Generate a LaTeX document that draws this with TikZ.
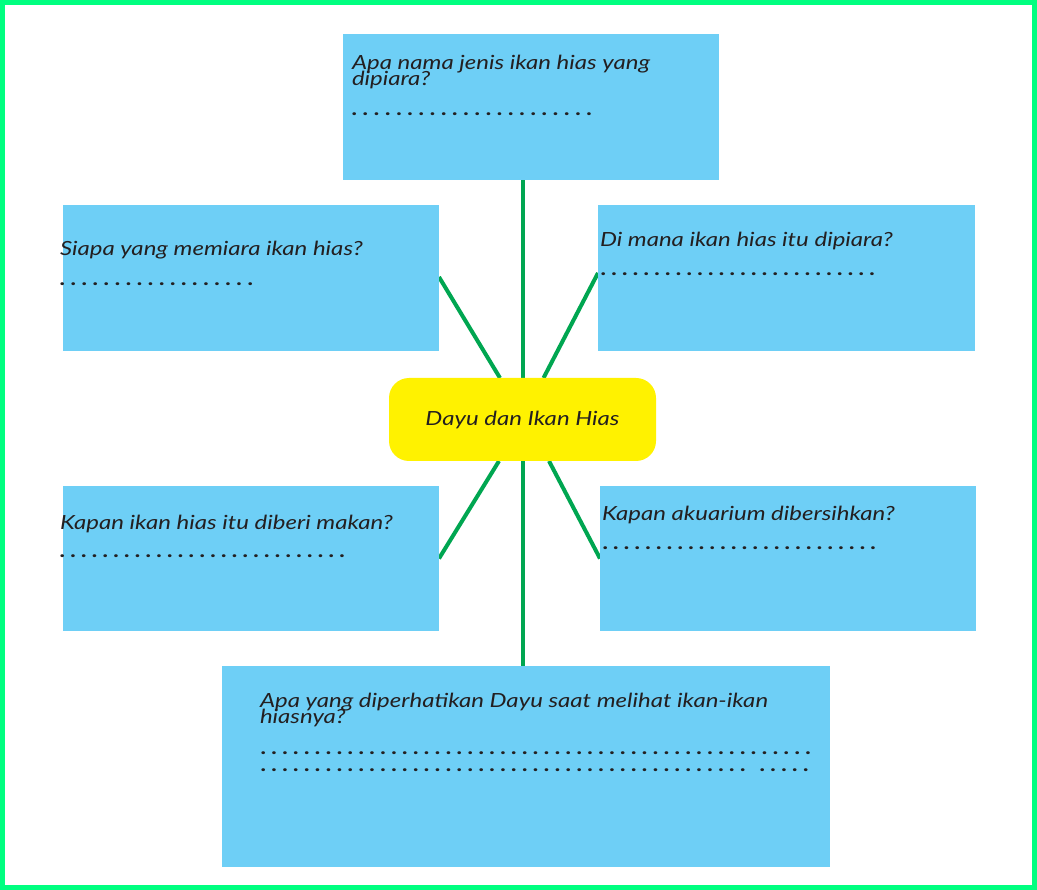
\documentclass[tikz,border=0pt]{standalone}
\usepackage{fontspec}
\setmainfont{Lato}[FakeStretch=1.23]
\usetikzlibrary{backgrounds,calc}
\definecolor{frame}{RGB}{0,255,128}
\definecolor{boxblue}{RGB}{110,207,246}
\definecolor{hubyellow}{RGB}{255,242,0}
\definecolor{link}{RGB}{0,166,81}
\definecolor{ink}{RGB}{35,31,32}
\newcommand\dotrow[2]{\foreach \i in {1,...,#1}{\makebox[#2][l]{.}}}
\begin{document}
\begin{tikzpicture}[x=1pt,y=-1pt,
  every node/.style={inner sep=0pt, outer sep=0pt},
  qbox/.style={rectangle, fill=boxblue},
  hubbox/.style={rectangle, rounded corners=20pt, fill=hubyellow, minimum width=267pt, minimum height=83pt},
  qtext/.style={anchor=base west, text=ink, font=\fontsize{19.5}{16}\selectfont\itshape},
  dotline/.style={anchor=base west, text=ink, font=\fontsize{19.5}{16}\selectfont\bfseries\itshape},
  linkline/.style={draw=link, line width=4pt}]
\path[use as bounding box] (0,0) rectangle (1037,890);

% boxes
\node[qbox, minimum width=376pt, minimum height=146pt] (top) at (531,107) {};
\node[qbox, minimum width=376pt, minimum height=146pt] (lu) at (251,278) {};
\node[qbox, minimum width=377pt, minimum height=146pt] (ru) at (786.5,278) {};
\node[qbox, minimum width=376pt, minimum height=145pt] (ll) at (251,558.5) {};
\node[qbox, minimum width=376pt, minimum height=145pt] (rl) at (788,558.5) {};
\node[qbox, minimum width=608pt, minimum height=201pt] (bot) at (526,766.5) {};
\node[hubbox, text=ink, font=\fontsize{19.5}{16}\selectfont\itshape] (hub) at (522.5,419.5) {Dayu dan Ikan Hias};

\begin{pgfonlayer}{background}
  \fill[white] (0,0) rectangle (1037,890);
  \draw[frame, line width=5pt] (2.5,2.5) rectangle (1034.5,887.5);
  \draw[linkline] (hub.north) -- (hub.north |- top.south);
  \draw[linkline] (hub.south) -- (hub.south |- bot.north);
  \draw[linkline] ($(lu.east)+(0,-1)$) -- ($(hub.north)+(-22.5,0)$);
  \draw[linkline] ($(ru.west)+(0,-5)$) -- ($(hub.north)+(21,0)$);
  \draw[linkline] (ll.east) -- ($(hub.south)+(-23.5,0)$);
  \draw[linkline] (rl.west) -- ($(hub.south)+(26.5,0)$);
\end{pgfonlayer}

% texts
\node[qtext] (t1a) at (352,70) {Apa nama jenis ikan hias yang};
\node[qtext] (t1b) at (352,86) {dipiara?};
\node[dotline] (t1c) at (352,116) {\dotrow{22}{11.19pt}};

\node[qtext] (t2a) at (60,256) {Siapa yang memiara ikan hias?};
\node[dotline] (t2c) at (60,286) {\dotrow{18}{11.06pt}};

\node[qtext] (t3a) at (600,247) {Di mana ikan hias itu dipiara?};
\node[dotline] (t3c) at (601,276) {\dotrow{26}{10.76pt}};

\node[qtext] (t4a) at (60,530) {Kapan ikan hias itu diberi makan?};
\node[dotline] (t4c) at (60,558) {\dotrow{27}{10.77pt}};

\node[qtext] (t5a) at (602,521) {Kapan akuarium dibersihkan?};
\node[dotline] (t5c) at (603,549.5) {\dotrow{26}{10.72pt}};

\node[qtext] (t6a) at (260,707) {Apa yang diperhatikan Dayu saat melihat ikan-ikan};
\node[qtext] (t6b) at (260,723) {hiasnya?};
\node[dotline] (t6c) at (261,754) {\dotrow{51}{10.9pt}};
\node[dotline] (t6d) at (261,771) {\dotrow{45}{10.9pt}};
\node[dotline] (t6e) at (760,771) {\dotrow{5}{10.9pt}};
\end{tikzpicture}
\end{document}
